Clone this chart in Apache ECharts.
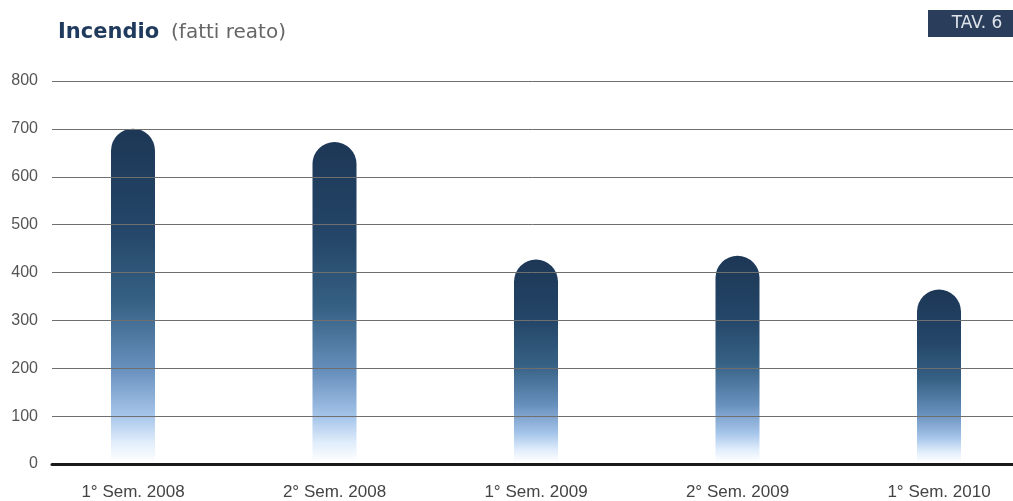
<!DOCTYPE html>
<html>
<head>
<meta charset="utf-8">
<script src="https://cdn.jsdelivr.net/npm/echarts@6/dist/echarts.min.js"></script>
<style>
  html, body { margin: 0; padding: 0; background: #ffffff; }
  #chart { width: 1013px; height: 501px; }
</style>
</head>
<body>
<div id="chart"></div>
<script>
const categories = ['1° Sem. 2008', '2° Sem. 2008', '1° Sem. 2009', '2° Sem. 2009', '1° Sem. 2010'];
const values = [700, 672, 425, 433, 362];
const yTicks = [0, 100, 200, 300, 400, 500, 600, 700, 800];

const chart = echarts.init(document.getElementById('chart'));

const barGradient = new echarts.graphic.LinearGradient(0, 0, 0, 1, [
  { offset: 0, color: '#1d3756' },
  { offset: 0.3, color: '#244668' },
  { offset: 0.52, color: '#366184' },
  { offset: 0.72, color: '#6890bd' },
  { offset: 0.86, color: '#a6c5ea' },
  { offset: 0.94, color: '#e0edfb' },
  { offset: 1, color: '#ffffff' }
]);

chart.setOption({
  backgroundColor: '#ffffff',
  animation: false,
  title: {
    left: 53,
    top: 17,
    text: '{b|Incendio}{n|(fatti reato)}',
    textStyle: {
      rich: {
        b: { fontFamily: '"DejaVu Sans"', fontWeight: 'bold', fontSize: 21, color: '#1f3a5c', padding: [0, 12, 0, 0] },
        n: { fontFamily: '"DejaVu Sans"', fontWeight: 'normal', fontSize: 20, color: '#666666' }
      }
    }
  },
  graphic: [
    {
      type: 'group',
      right: 0,
      top: 10,
      children: [
        { type: 'rect', shape: { x: 0, y: 0, width: 85, height: 27 }, style: { fill: '#2a3e5c' } },
        { type: 'text', x: 49, y: 14, style: { text: 'TAV. 6', fill: '#dfe3ea', font: '17px "DejaVu Sans"', textAlign: 'center', textVerticalAlign: 'middle' } }
      ]
    }
  ],
  grid: [
    { left: 52, right: 0, top: 81, bottom: 37 },
    { left: 133, right: 74, top: 81, bottom: 37 }
  ],
  xAxis: [
    {
      type: 'category',
      gridIndex: 0,
      data: categories,
      z: 5,
      axisLine: { show: true, lineStyle: { color: '#1a1a1a', width: 3 } },
      axisTick: { show: false },
      axisLabel: { show: false },
      splitLine: { show: false }
    },
    {
      type: 'category',
      gridIndex: 1,
      data: categories,
      boundaryGap: false,
      axisLine: { show: false },
      axisTick: { show: false },
      splitLine: { show: false },
      axisLabel: {
        show: true,
        margin: 22,
        fontFamily: '"Liberation Sans", Arial',
        fontSize: 17,
        color: '#444444'
      }
    }
  ],
  yAxis: [
    {
      type: 'value',
      gridIndex: 0,
      min: 0,
      max: 800,
      interval: 100,
      z: 4,
      axisLine: { show: false },
      axisTick: { show: false },
      axisLabel: {
        margin: 14,
        fontFamily: '"Liberation Sans", Arial',
        fontSize: 16,
        color: '#555555',
        formatter: function (v) { return yTicks.indexOf(v) >= 0 ? String(v) : ''; }
      },
      splitLine: { show: true, lineStyle: { color: '#6f6f6f', width: 1 } }
    },
    {
      type: 'value',
      gridIndex: 1,
      min: 0,
      max: 800,
      interval: 100,
      show: false,
      splitLine: { show: false }
    }
  ],
  series: [
    {
      type: 'bar',
      xAxisIndex: 1,
      yAxisIndex: 1,
      data: values,
      barWidth: 44,
      z: 2,
      itemStyle: {
        color: barGradient,
        borderRadius: [22, 22, 0, 0]
      }
    }
  ]
});
</script>
</body>
</html>
